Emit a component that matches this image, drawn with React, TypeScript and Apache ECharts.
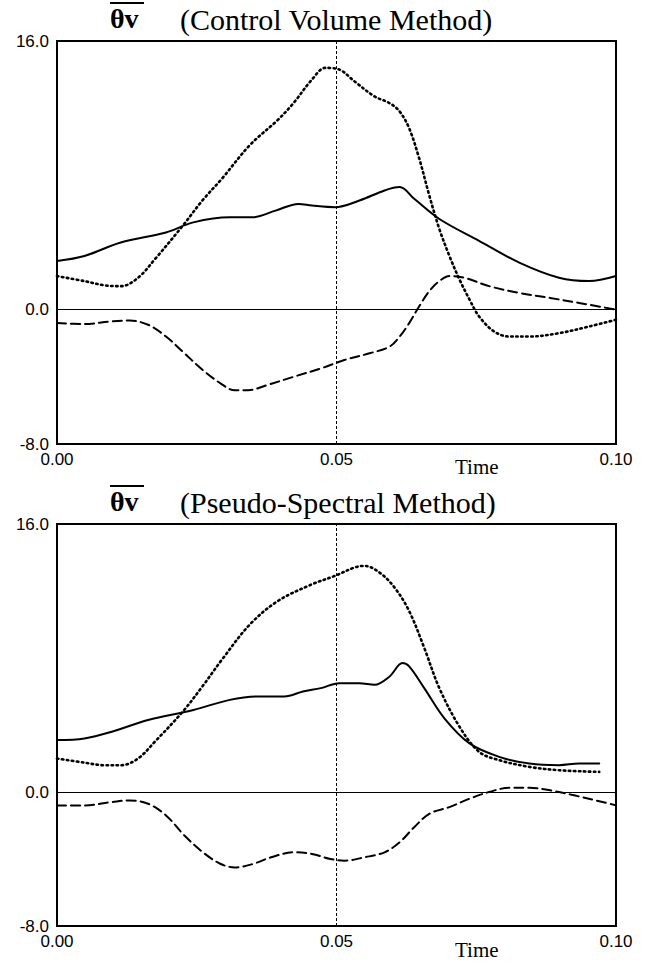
import React, { useEffect, useRef } from "react";
import * as echarts from "echarts";

// ---- Data (time in s, value) ----
const xTicks = [0, 0.05, 0.1];
const yTicks = [-8, 0, 16];

// Control Volume Method
const cvSolidT = [0, 0.0049, 0.0114, 0.0195, 0.0244, 0.0309, 0.035, 0.0391, 0.0432, 0.0456, 0.0497, 0.0541, 0.0586, 0.0613, 0.0639, 0.0684, 0.0755, 0.0827, 0.0898, 0.0952, 0.1];
const cvSolidV = [2.9, 3.2, 4.0, 4.6, 5.2, 5.5, 5.5, 5.9, 6.3, 6.2, 6.1, 6.5, 7.1, 7.3, 6.6, 5.4, 4.1, 2.8, 1.9, 1.7, 2.0];

const cvDotT = [0, 0.0049, 0.0085, 0.0115, 0.0145, 0.0175, 0.0225, 0.026, 0.0295, 0.0345, 0.0395, 0.0423, 0.0456, 0.048, 0.0505, 0.0532, 0.0568, 0.0595, 0.0613, 0.063, 0.0648, 0.0666, 0.0684, 0.0702, 0.072, 0.0738, 0.0755, 0.0782, 0.0809, 0.0845, 0.0898, 0.0952, 0.1];
const cvDotV = [2.0, 1.7, 1.45, 1.4, 1.9, 3.0, 5.0, 6.5, 7.8, 9.8, 11.3, 12.3, 13.7, 14.4, 14.3, 13.6, 12.7, 12.3, 11.8, 10.8, 9.0, 6.8, 4.8, 3.2, 1.8, 0.6, -0.4, -1.3, -1.6, -1.6, -1.4, -1.0, -0.6];

const cvDashT = [0, 0.0049, 0.0098, 0.013, 0.0163, 0.0195, 0.0228, 0.0261, 0.0293, 0.0318, 0.0342, 0.0375, 0.0423, 0.0472, 0.0514, 0.0559, 0.0595, 0.0613, 0.063, 0.0648, 0.0666, 0.0684, 0.0702, 0.0729, 0.0773, 0.0827, 0.0882, 0.0934, 0.1];
const cvDashV = [-0.8, -0.85, -0.7, -0.65, -0.9, -1.6, -2.6, -3.6, -4.4, -4.8, -4.8, -4.5, -4.0, -3.5, -3.0, -2.6, -2.2, -1.6, -0.8, 0.2, 1.1, 1.7, 2.0, 1.9, 1.4, 1.0, 0.7, 0.4, 0.0];

// Pseudo-Spectral Method
const psSolidT = [0, 0.0049, 0.0098, 0.0163, 0.0244, 0.0309, 0.0358, 0.0407, 0.044, 0.0472, 0.0505, 0.0541, 0.0568, 0.0595, 0.0618, 0.063, 0.0657, 0.0693, 0.0738, 0.0791, 0.0845, 0.0898, 0.0934, 0.097];
const psSolidV = [3.1, 3.2, 3.6, 4.3, 4.9, 5.5, 5.7, 5.7, 6.0, 6.2, 6.5, 6.5, 6.4, 6.9, 7.7, 7.5, 6.2, 4.4, 2.9, 2.1, 1.7, 1.6, 1.7, 1.7];

const psDotT = [0, 0.0049, 0.0085, 0.0115, 0.0145, 0.0175, 0.0225, 0.026, 0.0295, 0.0345, 0.0395, 0.0456, 0.0497, 0.0532, 0.055, 0.0577, 0.0604, 0.063, 0.0657, 0.0684, 0.072, 0.0755, 0.0791, 0.0845, 0.0898, 0.097];
const psDotV = [2.0, 1.75, 1.6, 1.6, 2.0, 3.0, 4.8, 6.3, 7.9, 10.0, 11.4, 12.4, 12.9, 13.4, 13.5, 13.1, 12.2, 10.8, 8.6, 6.2, 3.9, 2.4, 1.9, 1.5, 1.3, 1.2];

const psDashT = [0, 0.0049, 0.0098, 0.013, 0.0163, 0.0195, 0.0228, 0.0261, 0.0293, 0.0318, 0.035, 0.0383, 0.0423, 0.0456, 0.0489, 0.0514, 0.055, 0.0586, 0.0613, 0.0639, 0.0666, 0.0702, 0.0738, 0.0773, 0.0809, 0.0845, 0.0882, 0.0925, 0.097, 0.1];
const psDashV = [-0.8, -0.8, -0.6, -0.5, -0.7, -1.4, -2.6, -3.6, -4.3, -4.5, -4.3, -3.9, -3.6, -3.7, -4.0, -4.1, -3.9, -3.6, -3.0, -2.1, -1.3, -0.9, -0.4, 0.0, 0.25, 0.25, 0.1, -0.2, -0.55, -0.8];

const titles = ["(Control Volume Method)", "(Pseudo-Spectral Method)"];
const symbolLabel = "θv";
const xName = "Time";

const pair = (t: number[], v: number[]) => t.map((x, i) => [x, v[i]]);

export default function App() {
  const ref = useRef<HTMLDivElement>(null);
  useEffect(() => {
    document.body.style.margin = "0";
    const chart = echarts.init(ref.current!, null, { renderer: "svg" });
    const grids = [
      { left: 57, top: 41, width: 559, height: 403 },
      { left: 57, top: 524, width: 559, height: 402 },
    ];
    const sans = "Liberation Sans, Arial, sans-serif";
    const serif = "Liberation Serif, Times New Roman, serif";
    const xAxis = grids.map((_, i) => ({
      type: "value",
      gridIndex: i,
      min: 0,
      max: 0.1,
      interval: 0.05,
      axisLine: { show: false },
      axisTick: { show: false },
      splitLine: { show: false },
      axisLabel: {
        color: "#000",
        fontSize: 17,
        fontFamily: sans,
        margin: 7,
        formatter: (v: number) => (xTicks.some((t) => Math.abs(t - v) < 1e-9) ? v.toFixed(2) : ""),
      },
    }));
    const yAxis = grids.map((_, i) => ({
      type: "value",
      gridIndex: i,
      min: -8,
      max: 16,
      interval: 8,
      axisLine: { show: false },
      axisTick: { show: false },
      splitLine: { show: false },
      axisLabel: {
        color: "#000",
        fontSize: 17,
        fontFamily: sans,
        margin: 8,
        formatter: (v: number) => (yTicks.includes(v) ? v.toFixed(1) : ""),
      },
    }));
    const mk = (i: number, data: number[][], type: any, width: number, extra: any = {}) => ({
      type: "line",
      xAxisIndex: i,
      yAxisIndex: i,
      data,
      smooth: 0.35,
      showSymbol: false,
      symbol: "none",
      lineStyle: { color: "#000", width, type, cap: "round" },
      z: 3,
      ...extra,
    });
    const refLines = () => ({
      markLine: {
        silent: true,
        symbol: "none",
        label: { show: false },
        animation: false,
        data: [
          { yAxis: 0, lineStyle: { color: "#000", width: 1, type: "solid" } },
          { xAxis: 0.05, lineStyle: { color: "#000", width: 1, type: [3, 2] } },
        ],
      },
    });
    const series = [
      mk(0, pair(cvSolidT, cvSolidV), "solid", 2, refLines()),
      mk(0, pair(cvDotT, cvDotV), [1.5, 3.5], 2.6),
      mk(0, pair(cvDashT, cvDashV), [9, 5], 2),
      mk(1, pair(psSolidT, psSolidV), "solid", 2, refLines()),
      mk(1, pair(psDotT, psDotV), [1.5, 3.5], 2.6),
      mk(1, pair(psDashT, psDashV), [9, 5], 2),
    ];
    const titleGroup = (y: number, text: string) => [
      {
        type: "text",
        left: 110,
        top: y - 16,
        style: { text: symbolLabel, font: `bold 28px ${serif}`, fill: "#000" },
      },
      {
        type: "line",
        shape: { x1: 110, y1: y - 17, x2: 144, y2: y - 17 },
        style: { stroke: "#000", lineWidth: 2 },
      },
      {
        type: "text",
        left: 180,
        top: y - 16,
        style: { text, font: `30px ${serif}`, fill: "#000" },
      },
    ];
    chart.setOption({
      animation: false,
      backgroundColor: "#fff",
      grid: grids.map((g) => ({ ...g, show: true, borderColor: "#000", borderWidth: 2, backgroundColor: "transparent" })),
      xAxis,
      yAxis,
      series,
      graphic: [
        ...titleGroup(20, titles[0]),
        ...titleGroup(503, titles[1]),
        { type: "text", left: 455, top: 456, style: { text: xName, font: `21px ${serif}`, fill: "#000" } },
        { type: "text", left: 455, top: 939, style: { text: xName, font: `21px ${serif}`, fill: "#000" } },
      ],
    });
    return () => chart.dispose();
  }, []);
  return <div ref={ref} style={{ width: 647, height: 962 }} />;
}
